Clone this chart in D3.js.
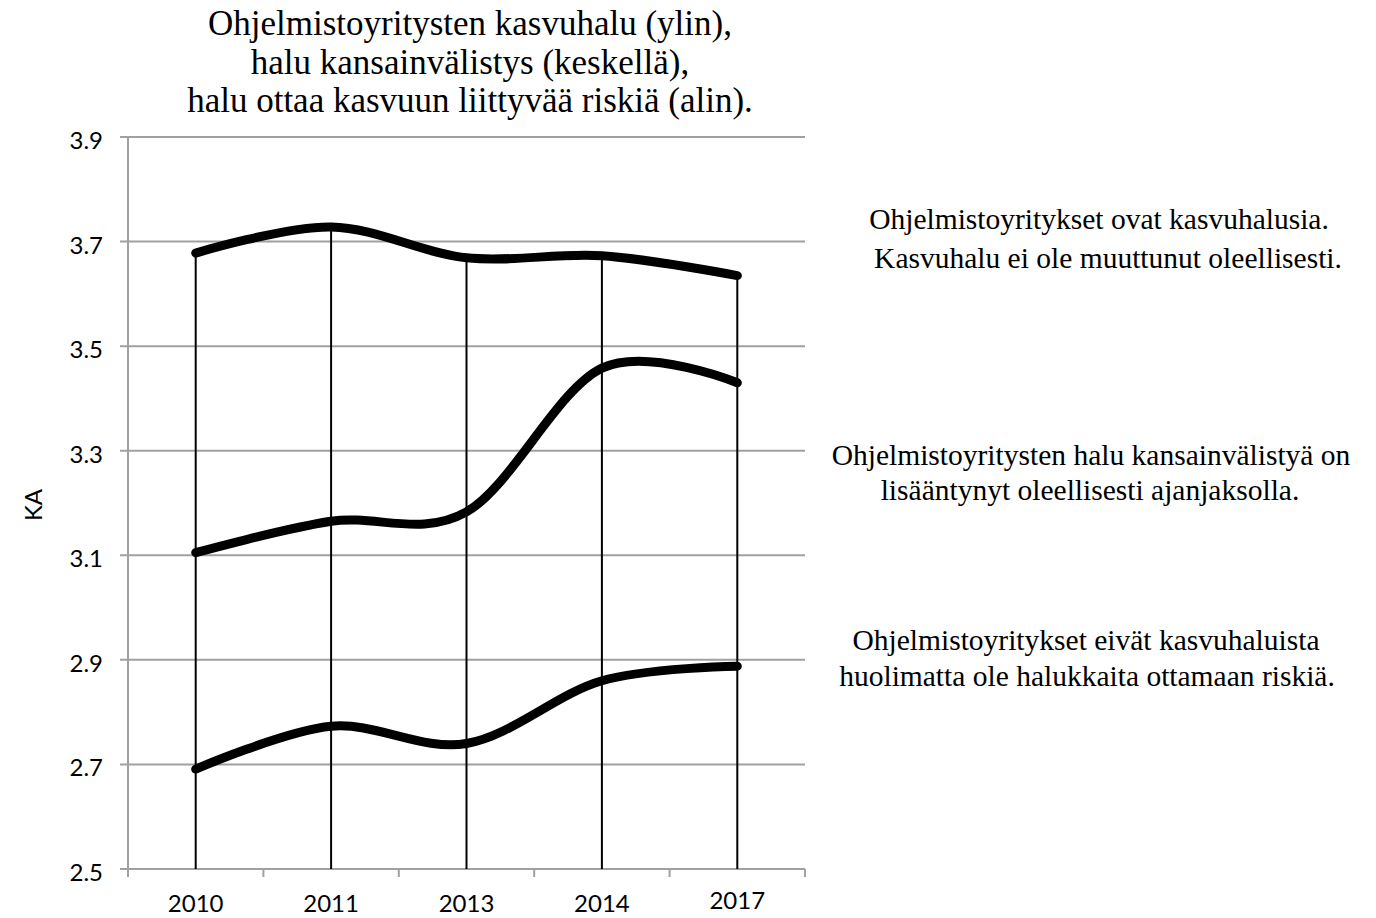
<!DOCTYPE html>
<html>
<head>
<meta charset="utf-8">
<script src="https://cdn.jsdelivr.net/npm/d3@7"></script>
<style>
  body { margin: 0; background: #fff; }
  svg { display: block; }
  .ylab, .xlab, .ka { font-family: Lato, "Open Sans", sans-serif; font-size: 24px; fill: #000; }
  .title { font-family: "Liberation Serif", serif; font-size: 35px; fill: #000; }
  .note { font-family: "Liberation Serif", serif; font-size: 29.5px; fill: #000; }
</style>
</head>
<body>
<svg id="chart" width="1376" height="918"></svg>
<script>
// data
const years = ["2010", "2011", "2013", "2014", "2017"];
const kasvuhalu = [3.678, 3.728, 3.669, 3.673, 3.635];
const kansainvalistys = [3.105, 3.165, 3.183, 3.458, 3.430];
const riski = [2.691, 2.773, 2.740, 2.860, 2.888];
const yticks = [2.5, 2.7, 2.9, 3.1, 3.3, 3.5, 3.7, 3.9];
const titleLines = [
  "Ohjelmistoyritysten kasvuhalu (ylin),",
  "halu kansainvälistys (keskellä),",
  "halu ottaa kasvuun liittyvää riskiä (alin)."
];
const noteTexts = [
  ["Ohjelmistoyritykset ovat kasvuhalusia.", "Kasvuhalu ei ole muuttunut oleellisesti."],
  ["Ohjelmistoyritysten halu kansainvälistyä on", "lisääntynyt oleellisesti ajanjaksolla."],
  ["Ohjelmistoyritykset eivät kasvuhaluista", "huolimatta ole halukkaita ottamaan riskiä."]
];

// layout of the note blocks (first baseline, line gap, centre x per line)
const noteLayout = [
  {y: 229, gap: 39, x: [1099, 1108]},
  {y: 465, gap: 35, x: [1091, 1090]},
  {y: 650, gap: 36, x: [1086, 1087]}
];

let m_left = 128, m_right = 805, m_top = 137, m_bottom = 869;

const svg = d3.select("#chart");

const y_scale = d3.scaleLinear()
      .domain([2.5, 3.9])
      .range([m_bottom, m_top]);

const x_scale = d3.scaleBand()
      .domain(years)
      .range([m_left, m_right]);

const xc = d => x_scale(d) + x_scale.bandwidth() / 2;

// horizontal grid
svg.append("g")
  .selectAll("line")
  .data(yticks)
  .enter()
  .append("line")
  .attr("x1", m_left - 8)
  .attr("x2", m_right)
  .attr("y1", d => y_scale(d))
  .attr("y2", d => y_scale(d))
  .attr("stroke", "#a0a0a0")
  .attr("stroke-width", 2);

// y axis line
svg.append("line")
  .attr("x1", m_left).attr("x2", m_left)
  .attr("y1", m_top).attr("y2", m_bottom)
  .attr("stroke", "#a0a0a0")
  .attr("stroke-width", 2);

// x axis ticks at band edges
const edges = years.map(d => x_scale(d)).concat([m_right]);
svg.append("g")
  .selectAll("line")
  .data(edges)
  .enter()
  .append("line")
  .attr("x1", d => d).attr("x2", d => d)
  .attr("y1", m_bottom).attr("y2", m_bottom + 8)
  .attr("stroke", "#a0a0a0")
  .attr("stroke-width", 2);

// y labels
svg.append("g")
  .selectAll("text")
  .data(yticks)
  .enter()
  .append("text")
  .attr("class", "ylab")
  .attr("x", 103)
  .attr("y", d => y_scale(d) + 12)
  .attr("text-anchor", "end")
  .text(d => d.toFixed(1));

// x labels
svg.append("g")
  .selectAll("text")
  .data(years)
  .enter()
  .append("text")
  .attr("class", "xlab")
  .attr("x", d => xc(d))
  .attr("y", (d, i) => i == 4 ? 909 : 912)
  .attr("text-anchor", "middle")
  .text(d => d);

svg.append("text")
  .attr("class", "ka")
  .attr("transform", "translate(42,505) rotate(-90)")
  .attr("text-anchor", "middle")
  .text("KA");

// drop lines from the top series
svg.append("g")
  .selectAll("line")
  .data(kasvuhalu)
  .enter()
  .append("line")
  .attr("x1", (d, i) => xc(years[i]))
  .attr("x2", (d, i) => xc(years[i]))
  .attr("y1", d => y_scale(d))
  .attr("y2", m_bottom)
  .attr("stroke", "#000")
  .attr("stroke-width", 2);

const line = d3.line()
      .x((d, i) => xc(years[i]))
      .y(d => y_scale(d))
      .curve(d3.curveCardinal.tension(0));

[kasvuhalu, kansainvalistys, riski].forEach(s => {
  svg.append("path")
    .attr("d", line(s))
    .attr("fill", "none")
    .attr("stroke", "#000")
    .attr("stroke-width", 9)
    .attr("stroke-linecap", "round")
    .attr("stroke-linejoin", "round");
});

// title
svg.append("g")
  .selectAll("text")
  .data(titleLines)
  .enter()
  .append("text")
  .attr("class", "title")
  .attr("x", 470)
  .attr("y", (d, i) => 35 + i * 38.5)
  .attr("text-anchor", "middle")
  .text(d => d);

// notes on the right
noteTexts.forEach((lines, k) => {
  let lay = noteLayout[k];
  svg.append("g")
    .selectAll("text")
    .data(lines)
    .enter()
    .append("text")
    .attr("class", "note")
    .attr("x", (d, i) => lay.x[i])
    .attr("y", (d, i) => lay.y + i * lay.gap)
    .attr("text-anchor", "middle")
    .text(d => d);
});
</script>
</body>
</html>
